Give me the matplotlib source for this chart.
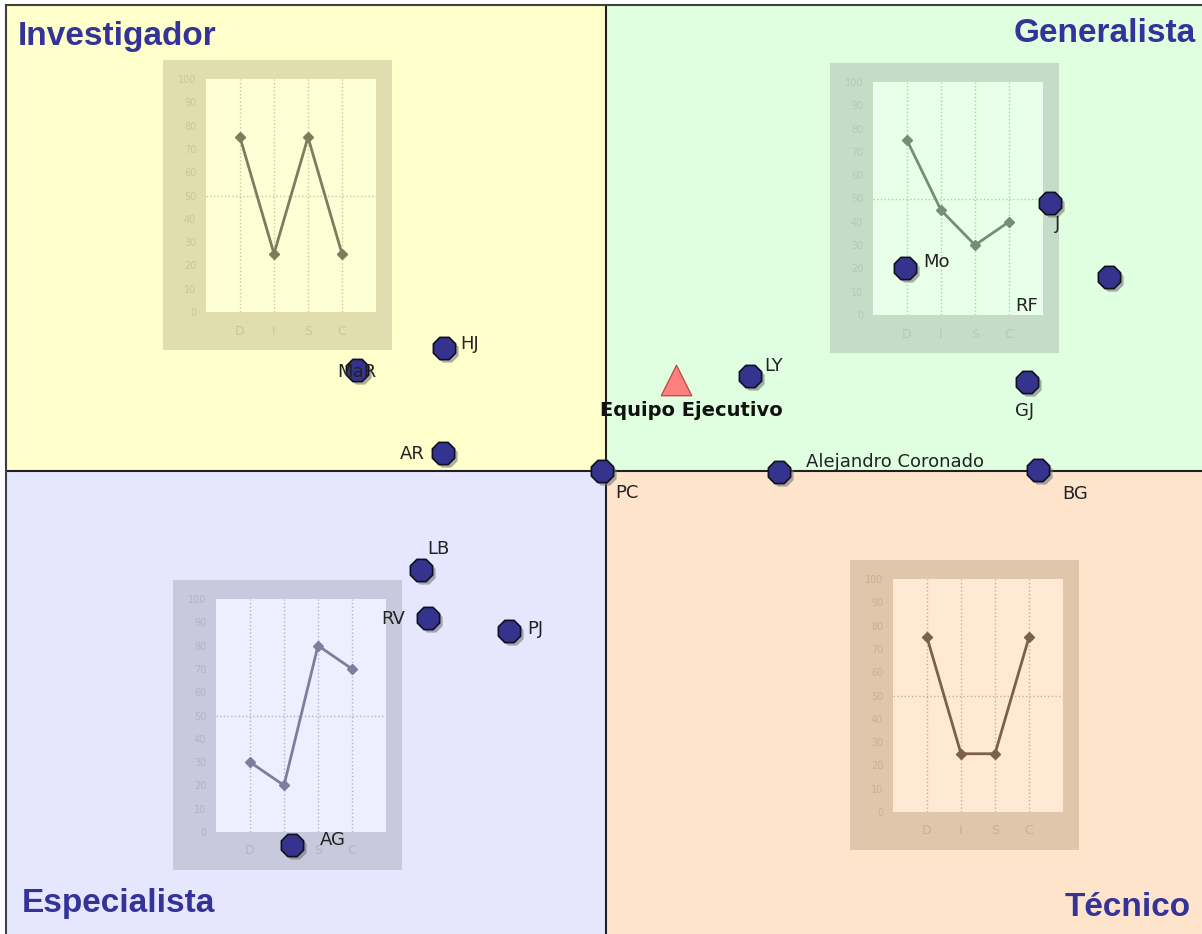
"""DISC quadrant map: Investigador / Generalista / Especialista / Técnico."""
import matplotlib
matplotlib.use("Agg")
import matplotlib.pyplot as plt
from matplotlib.patches import Rectangle
import matplotlib.transforms as mtransforms

W, H = 1202, 934

# people on the map (x: -100..100, y: -100..100)
names = ["HJ", "MaR", "AR", "PC", "LY", "Alejandro Coronado", "BG", "GJ",
         "J", "RF", "Mo", "LB", "RV", "PJ", "AG"]
xs = [-27.0, -41.5, -27.2, -0.7, 24.0, 28.8, 72.0, 70.2,
      74.0, 83.8, 49.8, -30.8, -29.7, -16.2, -52.3]
ys = [26.4, 21.7, 3.9, 0.0, 20.4, -0.2, 0.2, 19.1,
      57.5, 41.6, 43.6, -21.2, -31.5, -34.3, -80.3]

team_name = "Equipo Ejecutivo"
team_x, team_y = 11.7, 19.5

# DISC profiles shown in each quadrant
disc = ["D", "I", "S", "C"]
prof_investigador = [75, 25, 75, 25]
prof_generalista = [75, 45, 30, 40]
prof_especialista = [30, 20, 80, 70]
prof_tecnico = [75, 25, 25, 75]

# label placement: (dx px, dy px, ha)
label_pos = {
    "HJ": (16, -1, "left"), "MaR": (0, -7, "center"), "AR": (-18, -6, "right"),
    "PC": (13, -27, "left"), "LY": (14, 5, "left"),
    "Alejandro Coronado": (27, 5, "left"), "BG": (24, -29, "left"),
    "GJ": (-3, -34, "center"), "J": (5, -26, "left"), "RF": (-94, -34, "left"),
    "Mo": (18, 1, "left"), "LB": (6, 16, "left"), "RV": (-23, -6, "right"),
    "PJ": (18, -3, "left"), "AG": (28, 0, "left"),
}

fig = plt.figure(figsize=(W / 100, H / 100), dpi=100)


def px_axes(x0, y0, w, h):
    return fig.add_axes([x0 / W, 1 - (y0 + h) / H, w / W, h / H])


# --- background quadrants
bg = px_axes(6, 5, 1200, 932)
bg.set_xlim(-100, 100); bg.set_ylim(-100, 100)
bg.set_xticks([]); bg.set_yticks([])
for sp in bg.spines.values():
    sp.set_color("#404040"); sp.set_linewidth(1.5)
bg.add_patch(Rectangle((-100, 0), 100, 100, fc="#FFFFCC", ec="none"))
bg.add_patch(Rectangle((0, 0), 100, 100, fc="#E0FFE0", ec="none"))
bg.add_patch(Rectangle((-100, -100), 100, 100, fc="#E6E6FF", ec="none"))
bg.add_patch(Rectangle((0, -100), 100, 100, fc="#FFE4CC", ec="none"))
bg.axhline(0, color="#202020", lw=1.5)
bg.axvline(0, color="#202020", lw=1.5)

# --- DISC insets
insets = [
    ((163, 60), prof_investigador, "#E0DDAE", "#FFFFD6", "#7C7C5E", "#C9C699"),
    ((830, 63), prof_generalista, "#C6DCC6", "#E8FFE8", "#748F74", "#B2CBB2"),
    ((173, 580), prof_especialista, "#C9C9DE", "#EEEEFF", "#7E7E9C", "#B2B2CC"),
    ((850, 560), prof_tecnico, "#E0C7AC", "#FFE9D4", "#7C604C", "#C9AF96"),
]
for (fx, fy), vals, frame_c, inner_c, line_c, tick_c in insets:
    fr = px_axes(fx, fy, 229, 290)
    fr.set_facecolor(frame_c)
    fr.set_xticks([]); fr.set_yticks([])
    for sp in fr.spines.values():
        sp.set_visible(False)
    ax = px_axes(fx + 43, fy + 19, 170, 233)
    ax.set_facecolor(inner_c)
    ax.set_xlim(0, 5); ax.set_ylim(0, 100)
    ax.set_xticks(range(1, 5)); ax.set_xticklabels(disc)
    ax.set_yticks(range(0, 101, 10))
    ax.tick_params(length=0, colors=tick_c, labelsize=7)
    ax.tick_params(axis="y", pad=7)
    ax.tick_params(axis="x", pad=9, labelsize=9)
    for sp in ax.spines.values():
        sp.set_visible(False)
    ax.grid(axis="x", ls=":", color=tick_c, lw=1)
    ax.axhline(50, ls=":", color=tick_c, lw=1)
    ax.plot(range(1, 5), vals, color=line_c, lw=2, marker="D", ms=5,
            mfc=line_c, mec=line_c)

# --- overlay with people and titles
top = px_axes(6, 5, 1200, 932)
top.set_xlim(-100, 100); top.set_ylim(-100, 100)
top.axis("off")

shadow = mtransforms.offset_copy(top.transData, fig=fig, x=3, y=-3, units="dots")
top.scatter(xs, ys, s=300, marker="8", color="#777777", alpha=0.6,
            linewidths=0, transform=shadow, zorder=3)
top.scatter(xs, ys, s=300, marker="8", color="#34348E", edgecolors="#101020",
            linewidths=1.2, zorder=4)
for n, x, y in zip(names, xs, ys):
    dx, dy, ha = label_pos[n]
    top.annotate(n, (x, y), xytext=(dx, dy), textcoords="offset pixels",
                 ha=ha, va="baseline", fontsize=13, color="#222222", zorder=5)

top.scatter([team_x], [team_y], s=480, marker="^", color="#FF7F7F",
            edgecolors="#C05050", linewidths=1, zorder=4)
top.annotate(team_name, (team_x, team_y), xytext=(15, -36),
             textcoords="offset pixels", ha="center", va="baseline",
             fontsize=14, fontweight="bold", color="#111111", zorder=5)

title_kw = dict(fontsize=24, fontweight="bold", color="#333399",
                family="Liberation Sans", va="baseline", ha="left")
top.text(-98.0, 91.4, "Investigador", **title_kw)
top.text(68.0, 92.1, "Generalista", **title_kw)
top.text(-97.3, -94.6, "Especialista", **title_kw)
top.text(76.5, -95.5, "Técnico", **title_kw)

fig.savefig("out.png", dpi=100)
